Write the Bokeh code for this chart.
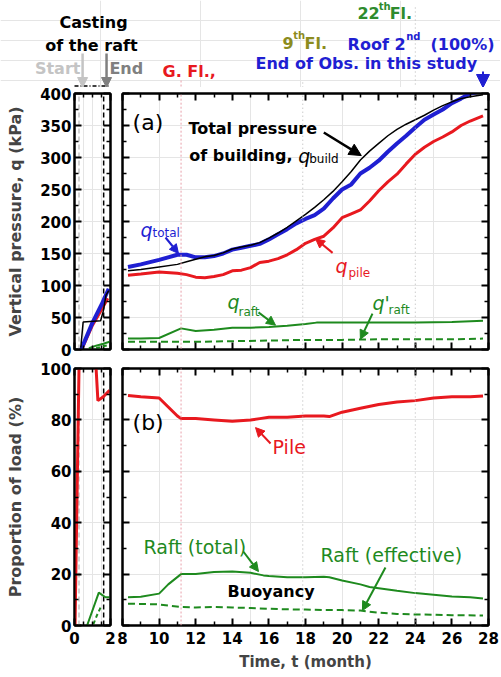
from bokeh.plotting import figure
from bokeh.layouts import column, row
from bokeh.models import Range1d, LinearAxis, FixedTicker, Label, Arrow, NormalHead
from bokeh.embed import file_html
from bokeh.resources import INLINE

# ---------------- data ----------------
# (a) main panel, time in months
t_a = [8.3, 9, 10, 11, 11.5, 12, 12.5, 13, 13.5, 14, 14.5, 15, 15.5, 16, 16.5, 17, 17.5, 18, 18.5,
       19, 19.5, 20, 20.5, 21, 21.5, 22, 22.5, 23, 23.5, 24, 24.5, 25, 25.5, 26, 26.5, 27, 27.7]
q_build = [123, 125, 129, 133, 137, 141, 145, 147, 151, 157, 160, 163, 167, 174, 182, 191, 201, 211, 222,
           234, 247, 262, 278, 296, 310, 322, 334, 344, 352, 359, 366, 374, 381, 387, 392, 395, 398]
q_total = [129, 133, 140, 148, 148, 144, 144, 146, 150, 156, 159, 162, 165, 172, 180, 188, 197, 204, 210,
           220, 236, 250, 258, 275, 284, 295, 309, 322, 334, 347, 359, 367, 375, 385, 392, 400, 404]
q_pile = [116, 118, 121, 119, 117, 113, 112, 114, 117, 123, 124, 128, 136, 138, 142, 148, 156, 166, 172,
          177, 190, 206, 212, 218, 232, 248, 262, 274, 290, 305, 316, 325, 332, 340, 350, 357, 365]
t_raft = [8.3, 9, 10, 11.2, 12, 13, 14, 15, 16, 17, 18, 18.6, 20, 22, 24, 26, 27.7]
q_raft = [17, 17, 18, 33, 29, 31, 34, 34, 35, 37, 40, 42, 42, 42, 42, 43, 45]
t_eff = [8.3, 10, 12, 14, 16, 18, 20, 22, 24, 26, 27.7]
q_eff = [12, 12, 12, 13, 14, 15, 15, 16, 16, 16, 17]

# (a) narrow panel (casting of the raft)
tn_build = [0.35, 0.48, 1.45, 1.6, 1.75, 1.9]
qn_build = [3, 43, 45, 60, 85, 92]
tn_total = [0.37, 1.0, 1.5, 1.9]
qn_total = [0, 42, 70, 95]
tn_pile = [0.4, 1.0, 1.5, 1.85]
qn_pile = [0, 38, 62, 80]
tn_raft = [0.8, 1.2, 1.6, 1.95]
qn_raft = [2, 6, 9, 12]
tn_eff = [1.2, 1.6, 1.95]
qn_eff = [2, 5, 7]

# (b) main panel, proportion of load (%)
tb_pile = [8.3, 9, 10, 10.5, 11, 11.2, 12, 13, 14, 15, 15.5, 16, 17, 18, 19, 19.3, 20, 21, 22, 23, 24, 25, 26, 27, 27.7]
p_pile = [89.5, 89, 88.5, 85, 81.5, 80.5, 80.5, 80, 79.5, 80, 80.5, 81, 81, 81.5, 81.5, 81.3, 83, 84.5, 86, 87,
          87.5, 88.5, 89, 89, 89.3]
tb_raft = [8.3, 9, 10, 10.5, 11.2, 12, 13, 14, 15, 15.7, 16, 17, 18, 19, 19.3, 20, 21, 21.5, 22, 23, 24, 25, 26, 27, 27.7]
p_raft = [11, 11.2, 12.4, 16, 20, 20, 20.8, 21, 20.5, 19.5, 19.3, 18.8, 18.8, 19, 18.8, 17.5, 16, 15, 14.5, 13.5,
          12.6, 12, 11.3, 11, 10.5]
tb_eff = [8.3, 10, 11.2, 12, 13, 14, 15, 16, 17, 18, 19, 20, 21, 22, 23, 24, 25, 26, 27.7]
p_eff = [8.5, 8.2, 7.2, 7, 7.2, 7, 6.8, 6.5, 6.3, 6.2, 6, 6, 5.8, 5, 4.5, 4.3, 4.2, 4, 3.9]

# (b) narrow panel
tbn_pile = [0.03, 0.25, 0.35, 1.1, 1.2, 1.3, 1.6, 1.95]
pbn_pile = [0, 100, 125, 125, 100, 87.5, 89, 91.5]
tbn_raft = [0.7, 1.35, 1.72, 1.95]
pbn_raft = [0, 12.8, 11, 11]
tbn_eff = [1.05, 1.25, 1.45]
pbn_eff = [0.5, 4, 7]

# events
T_GFL, T_9TH, T_22ND, T_END = 11.2, 17.85, 24.0, 27.7
CAST_START, CAST_END = 0.25, 1.62

x_ticks_main = [8, 10, 12, 14, 16, 18, 20, 22, 24, 26, 28]
x_minor_main = [9, 11, 13, 15, 17, 19, 21, 23, 25, 27]
x_ticks_n = [0, 2]
x_minor_n = [0.5, 1, 1.5]
q_ticks = [0, 50, 100, 150, 200, 250, 300, 350, 400]
q_minor = [25, 75, 125, 175, 225, 275, 325, 375]
p_ticks = [0, 20, 40, 60, 80, 100]
p_minor = [10, 30, 50, 70, 90]

# ---------------- style ----------------
FONT = "DejaVu Sans"
RED = "#e8191f"
BLUE = "#1f1fd2"
GREEN = "#1e8a1e"
OLIVE = "#8c8c1e"
GREEN22 = "#2e8b2e"
PINK = "#e8a0aa"
DOT = "#b4b4b4"
LGRAY = "#c4c4c4"
MGRAY = "#808080"

A1_L, A1_W = 74, 36
A2_L, A2_W = 122, 366
HEAD_H = 87
A_H, B_H = 256, 257
A_TOP, A_BOT = 6, 9
B_TOP, B_BOT = 10, 48
N_W = A1_L + A1_W + 6
M_W = 6 + A2_W + 12


def base_fig(width, height, xr, yr, left, right, top, bottom):
    p = figure(width=width, height=height, x_range=xr, y_range=yr,
               x_axis_location=None, y_axis_location=None,
               output_backend="svg", toolbar_location=None,
               min_border_left=left, min_border_right=right,
               min_border_top=top, min_border_bottom=bottom)
    p.outline_line_color = "black"
    p.outline_line_width = 2
    return p


def add_axis(p, side, ticks, minor, show=False, size="15px"):
    ax = LinearAxis(ticker=FixedTicker(ticks=ticks, minor_ticks=minor))
    ax.axis_line_color = "black"
    ax.axis_line_width = 2
    ax.major_tick_in = 7
    ax.major_tick_out = 0
    ax.major_tick_line_width = 2
    ax.minor_tick_in = 4
    ax.minor_tick_out = 0
    ax.minor_tick_line_width = 1.5
    ax.major_label_text_font = FONT
    ax.major_label_text_font_style = "bold"
    if show:
        ax.major_label_text_color = "black"
        ax.major_label_text_font_size = size
        ax.major_label_standoff = 3
    else:
        ax.major_label_text_color = None
        ax.major_label_text_font_size = "0px"
        ax.major_label_standoff = 0
    p.add_layout(ax, side)
    return ax


def lab(p, x, y, text, size, color="black", style="normal", align="left", baseline="alphabetic"):
    p.add_layout(Label(x=x, y=y, text=text, text_font=FONT, text_font_size=size,
                       text_font_style=style, text_color=color,
                       text_align=align, text_baseline=baseline))


def arr(p, x0, y0, x1, y1, color, width=2, head=9):
    p.add_layout(Arrow(end=NormalHead(size=head, fill_color=color, line_color=color),
                       x_start=x0, y_start=y0, x_end=x1, y_end=y1,
                       line_color=color, line_width=width))


def vline(p, x, y0, y1, color, dash, width=1):
    p.add_layout(Arrow(end=None, x_start=x, y_start=y0, x_end=x, y_end=y1,
                       line_color=color, line_dash=dash, line_width=width))


# ---------------- header (coordinates = page pixels) ----------------
H = figure(width=N_W + M_W, height=HEAD_H,
           x_range=Range1d(0, N_W + M_W), y_range=Range1d(HEAD_H, 0),
           x_axis_location=None, y_axis_location=None,
           output_backend="svg", toolbar_location=None, min_border=0)
H.outline_line_color = None


def hx_w(t):
    return A2_L + (t - 8) * A2_W / 20.0


def hx_n(t):
    return A1_L + t * A1_W / 2.0


vline(H, hx_w(T_GFL), 80, HEAD_H, PINK, "2 2")
vline(H, hx_w(T_9TH), 82, HEAD_H, DOT, "1 3")
vline(H, hx_w(T_22ND), 7, HEAD_H, DOT, "1 3")
H.add_layout(Arrow(end=None, x_start=hx_n(0), y_start=HEAD_H - 1.5, x_end=hx_n(2), y_end=HEAD_H - 1.5,
                   line_color="black", line_dash="4 2 1 2", line_width=1.5))

lab(H, hx_n(1.06), 21.5, "Casting", "16px", "black", "bold", "center", "middle")
lab(H, hx_n(0.94), 45, "of the raft", "16px", "black", "bold", "center", "middle")
lab(H, hx_n(0.33), 67.5, "Start", "16px", LGRAY, "bold", "right", "middle")
lab(H, hx_n(1.94), 67.5, "End", "16px", MGRAY, "bold", "left", "middle")
arr(H, hx_n(0.45), 53, hx_n(0.45), HEAD_H, LGRAY, 2.5, 10)
arr(H, hx_n(1.78), 53, hx_n(1.78), HEAD_H, MGRAY, 2.5, 10)

lab(H, hx_w(10.19), 71, "G. Fl.,", "16px", RED, "bold", "left", "middle")
lab(H, hx_w(16.74), 42.5, "9", "16px", OLIVE, "bold", "left", "middle")
lab(H, hx_w(17.33), 35, "th", "10px", OLIVE, "bold", "left", "middle")
lab(H, hx_w(17.95), 42.5, "Fl.", "16px", OLIVE, "bold", "left", "middle")
lab(H, hx_w(20.84), 12.5, "22", "16px", GREEN22, "bold", "left", "middle")
lab(H, hx_w(22.0), 5.5, "th", "10px", GREEN22, "bold", "left", "middle")
lab(H, hx_w(22.6), 12.5, "Fl.", "16px", GREEN22, "bold", "left", "middle")
lab(H, hx_w(20.3), 43.5, "Roof 2", "16px", BLUE, "bold", "left", "middle")
lab(H, hx_w(23.5), 36, "nd", "10px", BLUE, "bold", "left", "middle")
lab(H, hx_w(24.83), 43.5, "(100%)", "16px", BLUE, "bold", "left", "middle")
lab(H, hx_w(15.27), 62.5, "End of Obs. in this study", "16px", BLUE, "bold", "left", "middle")
arr(H, hx_w(T_END), 71, hx_w(T_END), HEAD_H, BLUE, 2, 13)

# ---------------- (a) narrow ----------------
A1 = base_fig(N_W, A_TOP + A_H + A_BOT, Range1d(0, 2), Range1d(0, 400), A1_L, 6, A_TOP, A_BOT)
ya = add_axis(A1, "left", q_ticks, q_minor, show=True)
ya.axis_label = "Vertical pressure, q (kPa)"
ya.axis_label_text_font = FONT
ya.axis_label_text_font_style = "bold"
ya.axis_label_text_font_size = "16px"
ya.axis_label_standoff = 12
add_axis(A1, "right", q_ticks, q_minor)
add_axis(A1, "below", x_ticks_n, x_minor_n)
add_axis(A1, "above", x_ticks_n, x_minor_n)
A1.segment(x0=[CAST_START], y0=[0], x1=[CAST_START], y1=[400], line_color=LGRAY, line_dash="5 3", line_width=1.5)
A1.segment(x0=[CAST_END], y0=[0], x1=[CAST_END], y1=[400], line_color="black", line_dash="5 3", line_width=1.5)
A1.line(tn_eff, qn_eff, line_color=GREEN, line_width=2, line_dash="4 3")
A1.line(tn_raft, qn_raft, line_color=GREEN, line_width=2)
A1.line(tn_pile, qn_pile, line_color=RED, line_width=3)
A1.line(tn_total, qn_total, line_color=BLUE, line_width=4)
A1.line(tn_build, qn_build, line_color="black", line_width=1.5)

# ---------------- (a) main ----------------
A2 = base_fig(M_W, A_TOP + A_H + A_BOT, Range1d(8, 28), Range1d(0, 400), 6, 12, A_TOP, A_BOT)
add_axis(A2, "left", q_ticks, q_minor)
add_axis(A2, "right", q_ticks, q_minor)
add_axis(A2, "below", x_ticks_main, x_minor_main)
add_axis(A2, "above", x_ticks_main, x_minor_main)
vline(A2, T_GFL, -30, 420, PINK, "2 2")
vline(A2, T_9TH, -30, 420, DOT, "1 3")
vline(A2, T_22ND, -30, 420, DOT, "1 3")
A2.line(t_eff, q_eff, line_color=GREEN, line_width=2, line_dash="7 4")
A2.line(t_raft, q_raft, line_color=GREEN, line_width=2)
A2.line(t_a, q_pile, line_color=RED, line_width=3)
A2.line(t_a, q_total, line_color=BLUE, line_width=4)
A2.line(t_a, q_build, line_color="black", line_width=1.5)

lab(A2, 8.55, 355, "(a)", "22px", "black", "normal", "left", "middle")
lab(A2, 11.6, 345, "Total pressure", "16px", "black", "bold")
lab(A2, 11.65, 303, "of building,", "16px", "black", "bold")
lab(A2, 17.6, 303, "q", "19px", "black", "italic")
lab(A2, 18.2, 297, "build", "12px", "black")
arr(A2, 19.0, 339, 21.05, 303, "black", 2.5, 12)

lab(A2, 8.98, 187, "q", "19px", BLUE, "italic")
lab(A2, 9.64, 182, "total", "12px", BLUE)
arr(A2, 10.35, 175, 11.06, 150, BLUE, 2, 9)

lab(A2, 19.64, 130, "q", "19px", RED, "italic")
lab(A2, 20.35, 120, "pile", "12px", RED)
arr(A2, 19.48, 151, 18.55, 173, RED, 2, 9)

lab(A2, 13.74, 74, "q", "19px", GREEN, "italic")
lab(A2, 14.34, 58, "raft", "12px", GREEN)
arr(A2, 15.43, 58, 16.36, 38, GREEN, 2, 9)

lab(A2, 21.66, 72, "q'", "19px", GREEN, "italic")
lab(A2, 22.54, 61, "raft", "12px", GREEN)
arr(A2, 21.66, 56, 21.0, 16, GREEN, 2, 9)

# ---------------- (b) narrow ----------------
B1 = base_fig(N_W, B_TOP + B_H + B_BOT, Range1d(0, 2), Range1d(0, 100), A1_L, 6, B_TOP, B_BOT)
yb = add_axis(B1, "left", p_ticks, p_minor, show=True)
yb.axis_label = "Proportion of load (%)"
yb.axis_label_text_font = FONT
yb.axis_label_text_font_style = "bold"
yb.axis_label_text_font_size = "16px"
yb.axis_label_standoff = 12
add_axis(B1, "right", p_ticks, p_minor)
xb1 = add_axis(B1, "below", x_ticks_n, x_minor_n, show=True)
xb1.major_label_standoff = 6
add_axis(B1, "above", x_ticks_n, x_minor_n)
B1.segment(x0=[CAST_START], y0=[0], x1=[CAST_START], y1=[100], line_color=LGRAY, line_dash="5 3", line_width=1.5)
B1.segment(x0=[CAST_END], y0=[0], x1=[CAST_END], y1=[100], line_color="black", line_dash="5 3", line_width=1.5)
B1.line(tbn_eff, pbn_eff, line_color=GREEN, line_width=2, line_dash="4 3")
B1.line(tbn_raft, pbn_raft, line_color=GREEN, line_width=2)
B1.line(tbn_pile, pbn_pile, line_color=RED, line_width=3)

# ---------------- (b) main ----------------
B2 = base_fig(M_W, B_TOP + B_H + B_BOT, Range1d(8, 28), Range1d(0, 100), 6, 12, B_TOP, B_BOT)
add_axis(B2, "left", p_ticks, p_minor)
add_axis(B2, "right", p_ticks, p_minor)
xb2 = add_axis(B2, "below", x_ticks_main, x_minor_main, show=True)
xb2.major_label_standoff = 6
xb2.axis_label = "Time, t (month)"
xb2.axis_label_text_font = FONT
xb2.axis_label_text_font_style = "bold"
xb2.axis_label_text_font_size = "15px"
xb2.axis_label_standoff = 6
add_axis(B2, "above", x_ticks_main, x_minor_main)
vline(B2, T_GFL, 0, 110, PINK, "2 2")
vline(B2, T_9TH, 0, 110, DOT, "1 3")
vline(B2, T_22ND, 0, 110, DOT, "1 3")
B2.line(tb_eff, p_eff, line_color=GREEN, line_width=2, line_dash="7 4")
B2.line(tb_raft, p_raft, line_color=GREEN, line_width=2)
B2.line(tb_pile, p_pile, line_color=RED, line_width=3)

lab(B2, 8.55, 79, "(b)", "22px", "black", "normal", "left", "middle")
lab(B2, 16.2, 69.3, "Pile", "19px", RED, "normal", "left", "middle")
arr(B2, 16.09, 70.8, 15.27, 77, RED, 2, 9)
lab(B2, 9.15, 30.7, "Raft (total)", "19px", GREEN, "normal", "left", "middle")
arr(B2, 14.6, 28.8, 15.43, 21, GREEN, 2, 9)
lab(B2, 13.74, 13.2, "Buoyancy", "16px", "black", "bold", "left", "middle")
lab(B2, 18.82, 27.6, "Raft (effective)", "19px", GREEN, "normal", "left", "middle")
arr(B2, 22.37, 22.6, 21.11, 5.8, GREEN, 2, 9)

layout = column(H, row(A1, A2), row(B1, B2))
open("out.html", "w").write(file_html(layout, INLINE))
